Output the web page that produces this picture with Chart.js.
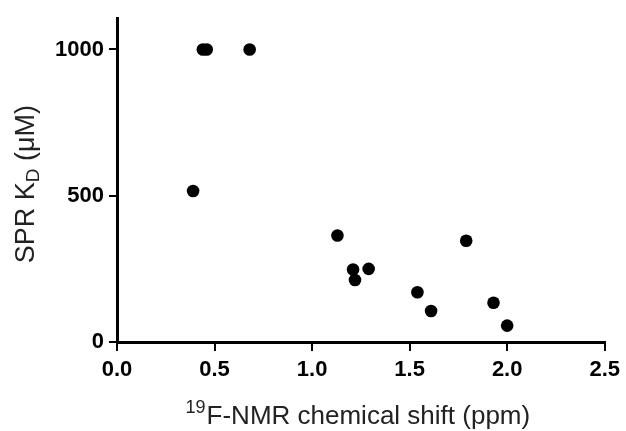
<!DOCTYPE html>
<html>
<head>
<meta charset="utf-8">
<script src="https://cdn.jsdelivr.net/npm/chart.js@4/dist/chart.umd.min.js"></script>
<style>
  html, body { margin: 0; padding: 0; background: #fff; }
  #wrap { width: 626px; height: 431px; }
</style>
</head>
<body>
<div id="wrap"><canvas id="chart" width="626" height="431"></canvas></div>
<script>
// 19F-NMR shift (ppm) vs SPR KD (uM)
const shiftPpm = [0.44, 0.46, 0.68, 0.39, 1.13, 1.21, 1.22, 1.29, 1.54, 1.61, 1.79, 1.93, 2.00];
const kdMicroM = [1000, 1000, 1000, 516, 364, 248, 212, 250, 170, 106, 346, 134, 56];
const yTicks = [0, 500, 1000];
const xTicks = [0, 0.5, 1, 1.5, 2, 2.5];

const FONT = '"Liberation Sans", Arial, sans-serif';

// axis titles with sub/superscripts
const axisTitles = {
  id: 'axisTitles',
  afterDraw(chart) {
    const { ctx, chartArea } = chart;
    ctx.save();
    ctx.fillStyle = '#222';
    ctx.textBaseline = 'alphabetic';

    // x title
    const main = 'F-NMR chemical shift (ppm)';
    ctx.font = `26px ${FONT}`;
    const wMain = ctx.measureText(main).width;
    ctx.font = `18px ${FONT}`;
    const wSup = ctx.measureText('19').width + 1;
    let x = (chartArea.left + chartArea.right) / 2 - 3 - (wMain + wSup) / 2;
    const base = chartArea.bottom + 82;
    ctx.textAlign = 'left';
    ctx.fillText('19', x, base - 11);
    ctx.font = `26px ${FONT}`;
    ctx.fillText(main, x + wSup, base);

    // y title, rotated
    ctx.translate(34, (chartArea.top + chartArea.bottom) / 2 + 4);
    ctx.rotate(-Math.PI / 2);
    const p1 = 'SPR K', sub = 'D', p2 = ' (\u03bcM)';
    ctx.font = `27px ${FONT}`;
    const w1 = ctx.measureText(p1).width, w2 = ctx.measureText(p2).width;
    ctx.font = `19px ${FONT}`;
    const ws = ctx.measureText(sub).width;
    let tx = -(w1 + ws + w2) / 2;
    ctx.font = `27px ${FONT}`;
    ctx.fillText(p1, tx, 0);
    ctx.font = `19px ${FONT}`;
    ctx.fillText(sub, tx + w1, 5);
    ctx.font = `27px ${FONT}`;
    ctx.fillText(p2, tx + w1 + ws, 0);
    ctx.restore();
  }
};

new Chart(document.getElementById('chart'), {
  type: 'scatter',
  data: {
    datasets: [{
      data: shiftPpm.map((x, i) => ({ x, y: kdMicroM[i] })),
      backgroundColor: '#000',
      borderWidth: 0,
      pointRadius: 6.3,
      pointHoverRadius: 6.3,
    }]
  },
  options: {
    responsive: false,
    animation: false,
    layout: { padding: { top: 13, right: 19, left: 0, bottom: 0 } },
    plugins: { legend: { display: false }, tooltip: { enabled: false } },
    scales: {
      x: {
        type: 'linear',
        min: 0, max: 2.5,
        afterBuildTicks: (s) => { s.ticks = xTicks.map(value => ({ value })); },
        afterFit: (s) => { s.height = 89; },
        ticks: {
          color: '#000', padding: 6,
          font: { family: FONT, size: 22, weight: 'bold' },
          callback: (v) => v.toFixed(1),
        },
        grid: { drawOnChartArea: false, drawTicks: true, tickLength: 9, color: '#000', lineWidth: 2 },
        border: { color: '#000', width: 3 },
      },
      y: {
        min: 0, max: 1107,
        afterBuildTicks: (s) => { s.ticks = yTicks.map(value => ({ value })); },
        afterFit: (s) => { s.width = 117; },
        ticks: {
          color: '#000', padding: 5,
          font: { family: FONT, size: 22, weight: 'bold' },
          callback: (v) => String(v),
        },
        grid: { drawOnChartArea: false, drawTicks: true, tickLength: 8, color: '#000', lineWidth: 2 },
        border: { color: '#000', width: 3 },
      }
    }
  },
  plugins: [axisTitles]
});
</script>
</body>
</html>
